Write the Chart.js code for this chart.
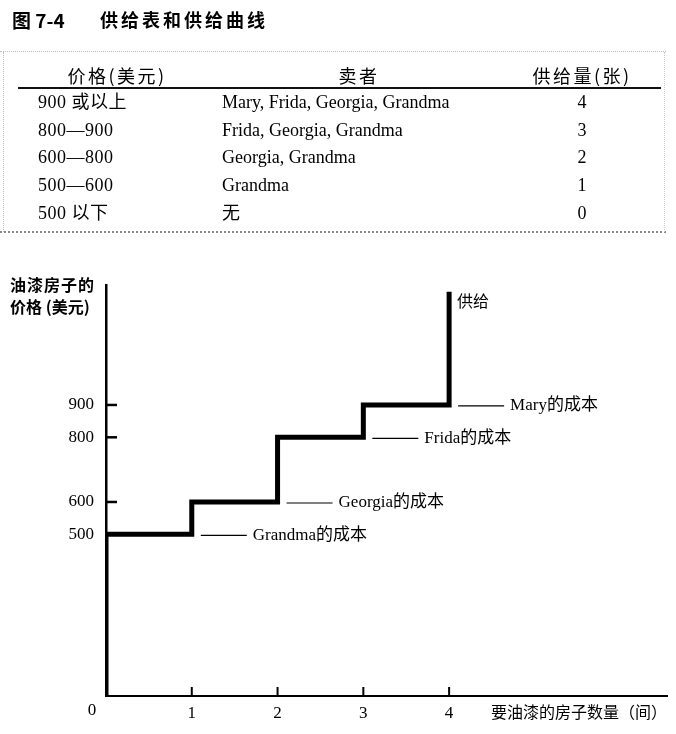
<!DOCTYPE html>
<html><head><meta charset="utf-8">
<script src="https://cdn.jsdelivr.net/npm/chart.js@4.4.0/dist/chart.umd.min.js"></script>
<style>
html,body{margin:0;padding:0;background:#fff;width:676px;height:734px;overflow:hidden;}
#wrap{position:relative;width:676px;height:734px;}
#c{position:absolute;left:0;top:0;}
.t{position:absolute;white-space:nowrap;color:#000;line-height:1.2;}
.ln{position:absolute;}
</style></head>
<body>
<div id="wrap">
<canvas id="c" width="676" height="734"></canvas>
</div>
<script>
// ---- data ----
const figNumber = '图 7-4';
const figTitle = '供给表和供给曲线';
const tableHeaders = ['价格(美元)', '卖者', '供给量(张)'];
const priceRanges = ['900 或以上', '800—900', '600—800', '500—600', '500 以下'];
const sellerLists = ['Mary, Frida, Georgia, Grandma', 'Frida, Georgia, Grandma', 'Georgia, Grandma', 'Grandma', '无'];
const qtySupplied = ['4', '3', '2', '1', '0'];

const sellers = ['Grandma', 'Georgia', 'Frida', 'Mary'];
const sellerCosts = [500, 600, 800, 900];
const supplyCap = 1250;
const yTickValues = [500, 600, 800, 900];
const xTickValues = [1, 2, 3, 4];
const xZeroLabel = '0';
const xAxisTitle = '要油漆的房子数量（间）';
const yAxisTitle = ['油漆房子的', '价格 (美元)'];
const supplyLabel = '供给';
const costSuffix = '的成本';

// ---- HTML header & table ----
const wrap = document.getElementById('wrap');
function txt(s, x, y, font, align, extra) {
  const d = document.createElement('div');
  d.className = 't';
  d.textContent = s;
  d.style.left = x + 'px';
  d.style.top = y + 'px';
  d.style.font = font;
  d.style.lineHeight = '1.2';
  d.style.transform = align === 'center' ? 'translate(-50%,-50%)' : 'translate(0,-50%)';
  if (extra) Object.assign(d.style, extra);
  wrap.appendChild(d);
}
function box(l, t, w, h, st) {
  const d = document.createElement('div');
  d.className = 'ln';
  Object.assign(d.style, {left: l + 'px', top: t + 'px', width: w + 'px', height: h + 'px'}, st);
  wrap.appendChild(d);
}
const cjk = '"Noto Sans CJK SC"';
const serif = '"Liberation Serif", "Noto Sans CJK SC"';
txt(figNumber, 12, 20, 'bold 19px ' + cjk, 'left');
txt(figTitle, 100, 20, 'bold 18px ' + cjk, 'left', {letterSpacing: '3px'});

box(0, 51, 666, 0, {borderTop: '1px dotted #bbb'});
box(0, 231, 666, 0, {borderTop: '2px dotted #8a8a8a'});
box(3, 52, 0, 180, {borderLeft: '1px dotted #bbb'});
box(664, 52, 0, 180, {borderLeft: '1px dotted #ccc'});
box(18, 87, 643, 2, {background: '#111'});

const headX = [117, 359, 582];
tableHeaders.forEach((h, i) => txt(h, headX[i], 76, '18px ' + cjk, 'center', {letterSpacing: '2.5px'}));
const rowY = [103, 131, 158, 186, 214];
priceRanges.forEach((p, i) => {
  txt(p, 38, rowY[i], '18px ' + serif, 'left', {letterSpacing: '0.5px'});
  txt(sellerLists[i], 222, rowY[i], '18px ' + serif, 'left');
  txt(qtySupplied[i], 582, rowY[i], '18px ' + serif, 'center');
});

// ---- supply curve points built from the schedule ----
const pts = [{x: 0, y: 0}];
sellerCosts.forEach((c, i) => { pts.push({x: i, y: c}); pts.push({x: i + 1, y: c}); });
pts.push({x: sellers.length, y: supplyCap});

const decor = {
  id: 'decor',
  afterDraw(chart) {
    const ctx = chart.ctx, xs = chart.scales.x, ys = chart.scales.y, a = chart.chartArea;
    ctx.save();
    ctx.strokeStyle = '#000';
    ctx.fillStyle = '#000';
    // inward y ticks
    ctx.lineWidth = 2.5;
    yTickValues.forEach(v => {
      const y = ys.getPixelForValue(v);
      ctx.beginPath(); ctx.moveTo(a.left, y); ctx.lineTo(a.left + 11, y); ctx.stroke();
    });
    // upward x ticks
    ctx.lineWidth = 2;
    xTickValues.forEach(v => {
      const x = xs.getPixelForValue(v);
      ctx.beginPath(); ctx.moveTo(x, a.bottom); ctx.lineTo(x, a.bottom - 9); ctx.stroke();
    });
    // zero label
    ctx.font = '17px "Liberation Serif"';
    ctx.textAlign = 'center'; ctx.textBaseline = 'middle';
    ctx.fillText(xZeroLabel, xs.getPixelForValue(0) - 14, a.bottom + 15);
    // x axis title
    ctx.font = '16px ' + cjk;
    ctx.textAlign = 'right';
    ctx.fillText(xAxisTitle, a.right, a.bottom + 16);
    // y axis title
    ctx.font = 'bold 16px ' + cjk;
    ctx.textAlign = 'left';
    ctx.letterSpacing = '1px';
    ctx.fillText(yAxisTitle[0], 10, a.top);
    ctx.letterSpacing = '0px';
    ctx.fillText(yAxisTitle[1], 10, a.top + 22);
    // supply label
    ctx.font = '16px ' + cjk;
    ctx.fillText(supplyLabel, xs.getPixelForValue(sellers.length) + 8, ys.getPixelForValue(supplyCap) + 9);
    // cost annotations
    ctx.font = '17px ' + serif;
    ctx.lineWidth = 1.2;
    sellers.forEach((s, i) => {
      const x0 = xs.getPixelForValue(i + 1) + 9;
      const y = ys.getPixelForValue(sellerCosts[i]) + 1;
      ctx.beginPath(); ctx.moveTo(x0, y); ctx.lineTo(x0 + 46, y); ctx.stroke();
      ctx.fillText(s + costSuffix, x0 + 52, y);
    });
    ctx.restore();
  }
};

new Chart(document.getElementById('c'), {
  type: 'scatter',
  data: {datasets: [{
    data: pts, showLine: true, borderColor: '#000', backgroundColor: '#000',
    borderWidth: 5, pointRadius: 0, borderJoinStyle: 'miter', borderCapStyle: 'butt',
    fill: false, tension: 0
  }]},
  options: {
    responsive: false, animation: false, devicePixelRatio: 1,
    layout: {padding: {left: 0, right: 9, top: 285, bottom: 0}},
    plugins: {legend: {display: false}, tooltip: {enabled: false}, title: {display: false}},
    scales: {
      x: {
        type: 'linear', position: 'bottom', min: 0, max: 6.54,
        afterBuildTicks: s => { s.ticks = xTickValues.map(v => ({value: v})); },
        afterFit: s => { s.height = 38; },
        grid: {display: true, drawOnChartArea: false, drawTicks: false},
        border: {display: true, color: '#000', width: 2},
        ticks: {color: '#000', font: {family: '"Liberation Serif"', size: 17}, padding: 7, maxRotation: 0, autoSkip: false}
      },
      y: {
        type: 'linear', min: 0, max: 1271,
        afterBuildTicks: s => { s.ticks = yTickValues.map(v => ({value: v})); },
        afterFit: s => { s.width = 106; },
        grid: {display: true, drawOnChartArea: false, drawTicks: false},
        border: {display: true, color: '#000', width: 2.5},
        ticks: {color: '#000', font: {family: '"Liberation Serif"', size: 17}, padding: 12, autoSkip: false}
      }
    }
  },
  plugins: [decor]
});
</script>
</body></html>
